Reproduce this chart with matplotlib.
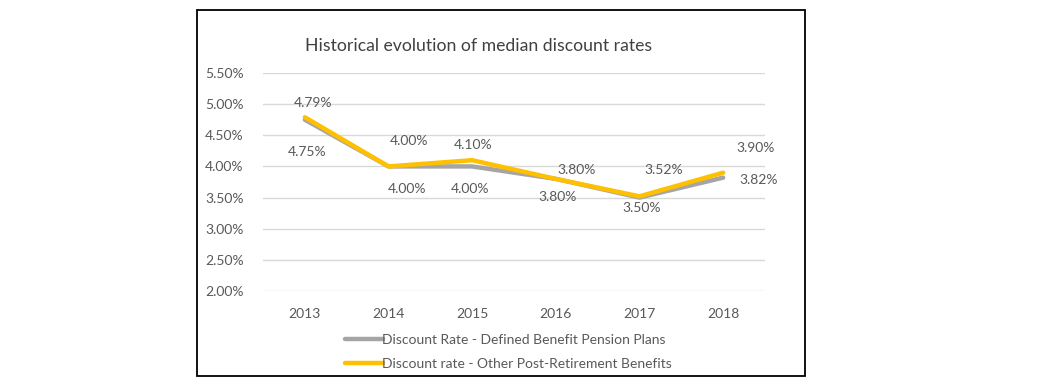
import matplotlib
matplotlib.use("Agg")
import matplotlib.pyplot as plt
from matplotlib.patches import Rectangle
from matplotlib.ticker import FuncFormatter

plt.rcParams['font.family'] = ['Lato', 'DejaVu Sans']

years = ["2013", "2014", "2015", "2016", "2017", "2018"]
pension = [4.75, 4.00, 4.00, 3.80, 3.50, 3.82]
other = [4.79, 4.00, 4.10, 3.80, 3.52, 3.90]
series_names = ["Discount Rate - Defined Benefit Pension Plans",
                "Discount rate - Other Post-Retirement Benefits"]
title = "Historical evolution of median discount rates"

# label offsets in pixels (dx, dy) -- style, not data
pension_off = [(2, -32), (19, -23), (-2, -23), (2, -18), (2, -10), (35, -2)]
other_off = [(8, 14), (21, 25), (1, 15), (21, 9), (24, 26), (32, 25)]

W, H = 1058, 389
fig = plt.figure(figsize=(W / 100, H / 100), dpi=100)
fig.patch.set_facecolor("white")

# outer chart border
fig.patches.append(Rectangle((197 / W, 1 - 376 / H), (805 - 197) / W, (376 - 10) / H,
                             transform=fig.transFigure, fill=False, edgecolor="black",
                             linewidth=1.3))

ax = fig.add_axes([263 / W, 1 - 291 / H, (765 - 263) / W, (291 - 73) / H])
x = list(range(len(years)))
gray = "#A5A5A5"
yellow = "#FFC000"
txt = "#595959"

l1, = ax.plot(x, pension, color=gray, lw=3.2, solid_capstyle="round", zorder=3,
              label=series_names[0])
l2, = ax.plot(x, other, color=yellow, lw=3.2, solid_capstyle="round", zorder=4,
              label=series_names[1])

px = 72 / 100
for i in x:
    dx, dy = pension_off[i]
    ax.annotate(f"{pension[i]:.2f}%", (i, pension[i]), xytext=(dx * px, dy * px),
                textcoords="offset points", ha="center", va="center",
                fontsize=10, color=txt)
    dx, dy = other_off[i]
    ax.annotate(f"{other[i]:.2f}%", (i, other[i]), xytext=(dx * px, dy * px),
                textcoords="offset points", ha="center", va="center",
                fontsize=10, color=txt)

ax.set_xlim(-0.5, len(years) - 0.5)
ax.set_ylim(2.0, 5.5)
ax.set_yticks([2.0 + 0.5 * k for k in range(8)])
ax.yaxis.set_major_formatter(FuncFormatter(lambda v, p: f"{v:.2f}%"))
ax.set_xticks(x)
ax.set_xticklabels(years)
ax.grid(axis="y", color="#D9D9D9", lw=1)
ax.set_axisbelow(True)
for s in ax.spines.values():
    s.set_visible(False)
ax.tick_params(length=0, labelsize=10, labelcolor=txt)
ax.tick_params(axis="y", pad=14)
ax.tick_params(axis="x", pad=12)

fig.text(479 / W, 1 - 46 / H, title, ha="center", va="center", fontsize=12.7,
         color="#404040")

fig.legend(handles=[l1, l2], loc="upper left", bbox_to_anchor=(345 / W, 1 - 334 / H),
           frameon=False, fontsize=10, labelcolor=txt, handlelength=2.7,
           handletextpad=0.0, labelspacing=0.85, borderpad=0, borderaxespad=0)

fig.savefig("out.png", dpi=100, facecolor="white")
